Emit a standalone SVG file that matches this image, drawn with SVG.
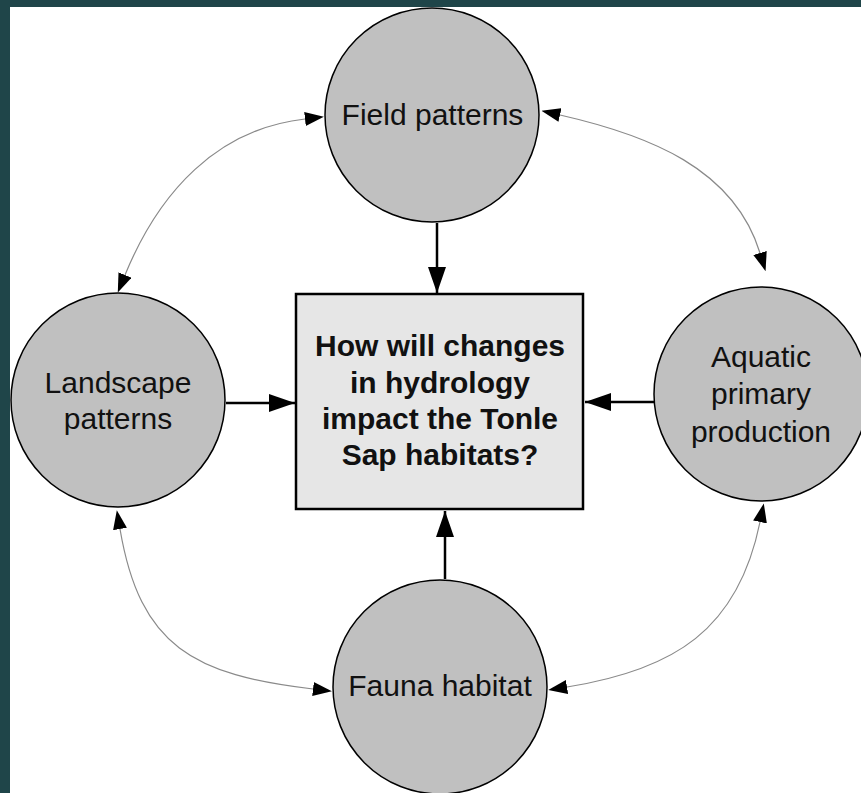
<svg xmlns="http://www.w3.org/2000/svg" width="861" height="793" viewBox="0 0 861 793">
  <style>
    .node { fill: #c0c0c0; stroke: #000; stroke-width: 1.5; }
    .box { fill: #e6e6e6; stroke: #000; stroke-width: 2.5; }
    .lbl { font-family: "Liberation Sans", Arial, sans-serif; font-size: 30px; fill: #111; text-anchor: middle; }
    .q { font-weight: bold; }
    .main { stroke: #000; stroke-width: 2.5; fill: none; marker-end: url(#bigArrow); }
    .link { stroke: #8a8a8a; stroke-width: 1.2; fill: none; marker-start: url(#smallArrow); marker-end: url(#smallArrow); }
  </style>
  <defs>
    <marker id="bigArrow" markerUnits="userSpaceOnUse" markerWidth="26" markerHeight="18" refX="26" refY="9" orient="auto">
      <path d="M0,0 L26,9 L0,18 Z" fill="#000"/>
    </marker>
    <marker id="smallArrow" markerUnits="userSpaceOnUse" markerWidth="19" markerHeight="14" refX="0" refY="7" orient="auto-start-reverse">
      <path d="M0,0 L19,7 L0,14 Z" fill="#000"/>
    </marker>
  </defs>

  <rect x="0" y="0" width="861" height="793" fill="#1f4549"/>
  <rect x="10" y="7" width="851" height="786" fill="#ffffff"/>

  <g id="connectors">
    <path class="main" d="M437,223 L437,293"/>
    <path class="main" d="M226,403 L295,403"/>
    <path class="main" d="M654,402 L585,402"/>
    <path class="main" d="M445,579 L445,511"/>
    <path class="link" d="M125,275 C159,192 217,129 305,119"/>
    <path class="link" d="M560,115 C648,135 734,168 760,253"/>
    <path class="link" d="M120,529 C140,647 194,675 313,689"/>
    <path class="link" d="M760,522 C738,630 674,670 567,687"/>
  </g>

  <g id="field-patterns">
    <circle class="node" cx="432" cy="115" r="107"/>
    <text class="lbl" x="432.5" y="125">Field patterns</text>
  </g>

  <g id="landscape-patterns">
    <circle class="node" cx="118" cy="400" r="107"/>
    <text class="lbl" x="118" y="393">Landscape</text>
    <text class="lbl" x="118" y="429">patterns</text>
  </g>

  <g id="aquatic-primary-production">
    <circle class="node" cx="761" cy="394" r="107"/>
    <text class="lbl" x="761" y="367">Aquatic</text>
    <text class="lbl" x="761" y="404">primary</text>
    <text class="lbl" x="761" y="442">production</text>
  </g>

  <g id="fauna-habitat">
    <circle class="node" cx="440" cy="687" r="107"/>
    <text class="lbl" x="440" y="696">Fauna habitat</text>
  </g>

  <g id="question">
    <rect class="box" x="296" y="294" width="287" height="215"/>
    <text class="lbl q" x="440" y="356">How will changes</text>
    <text class="lbl q" x="440" y="392.5">in hydrology</text>
    <text class="lbl q" x="440" y="428.5">impact the Tonle</text>
    <text class="lbl q" x="440" y="465">Sap habitats?</text>
  </g>
</svg>
